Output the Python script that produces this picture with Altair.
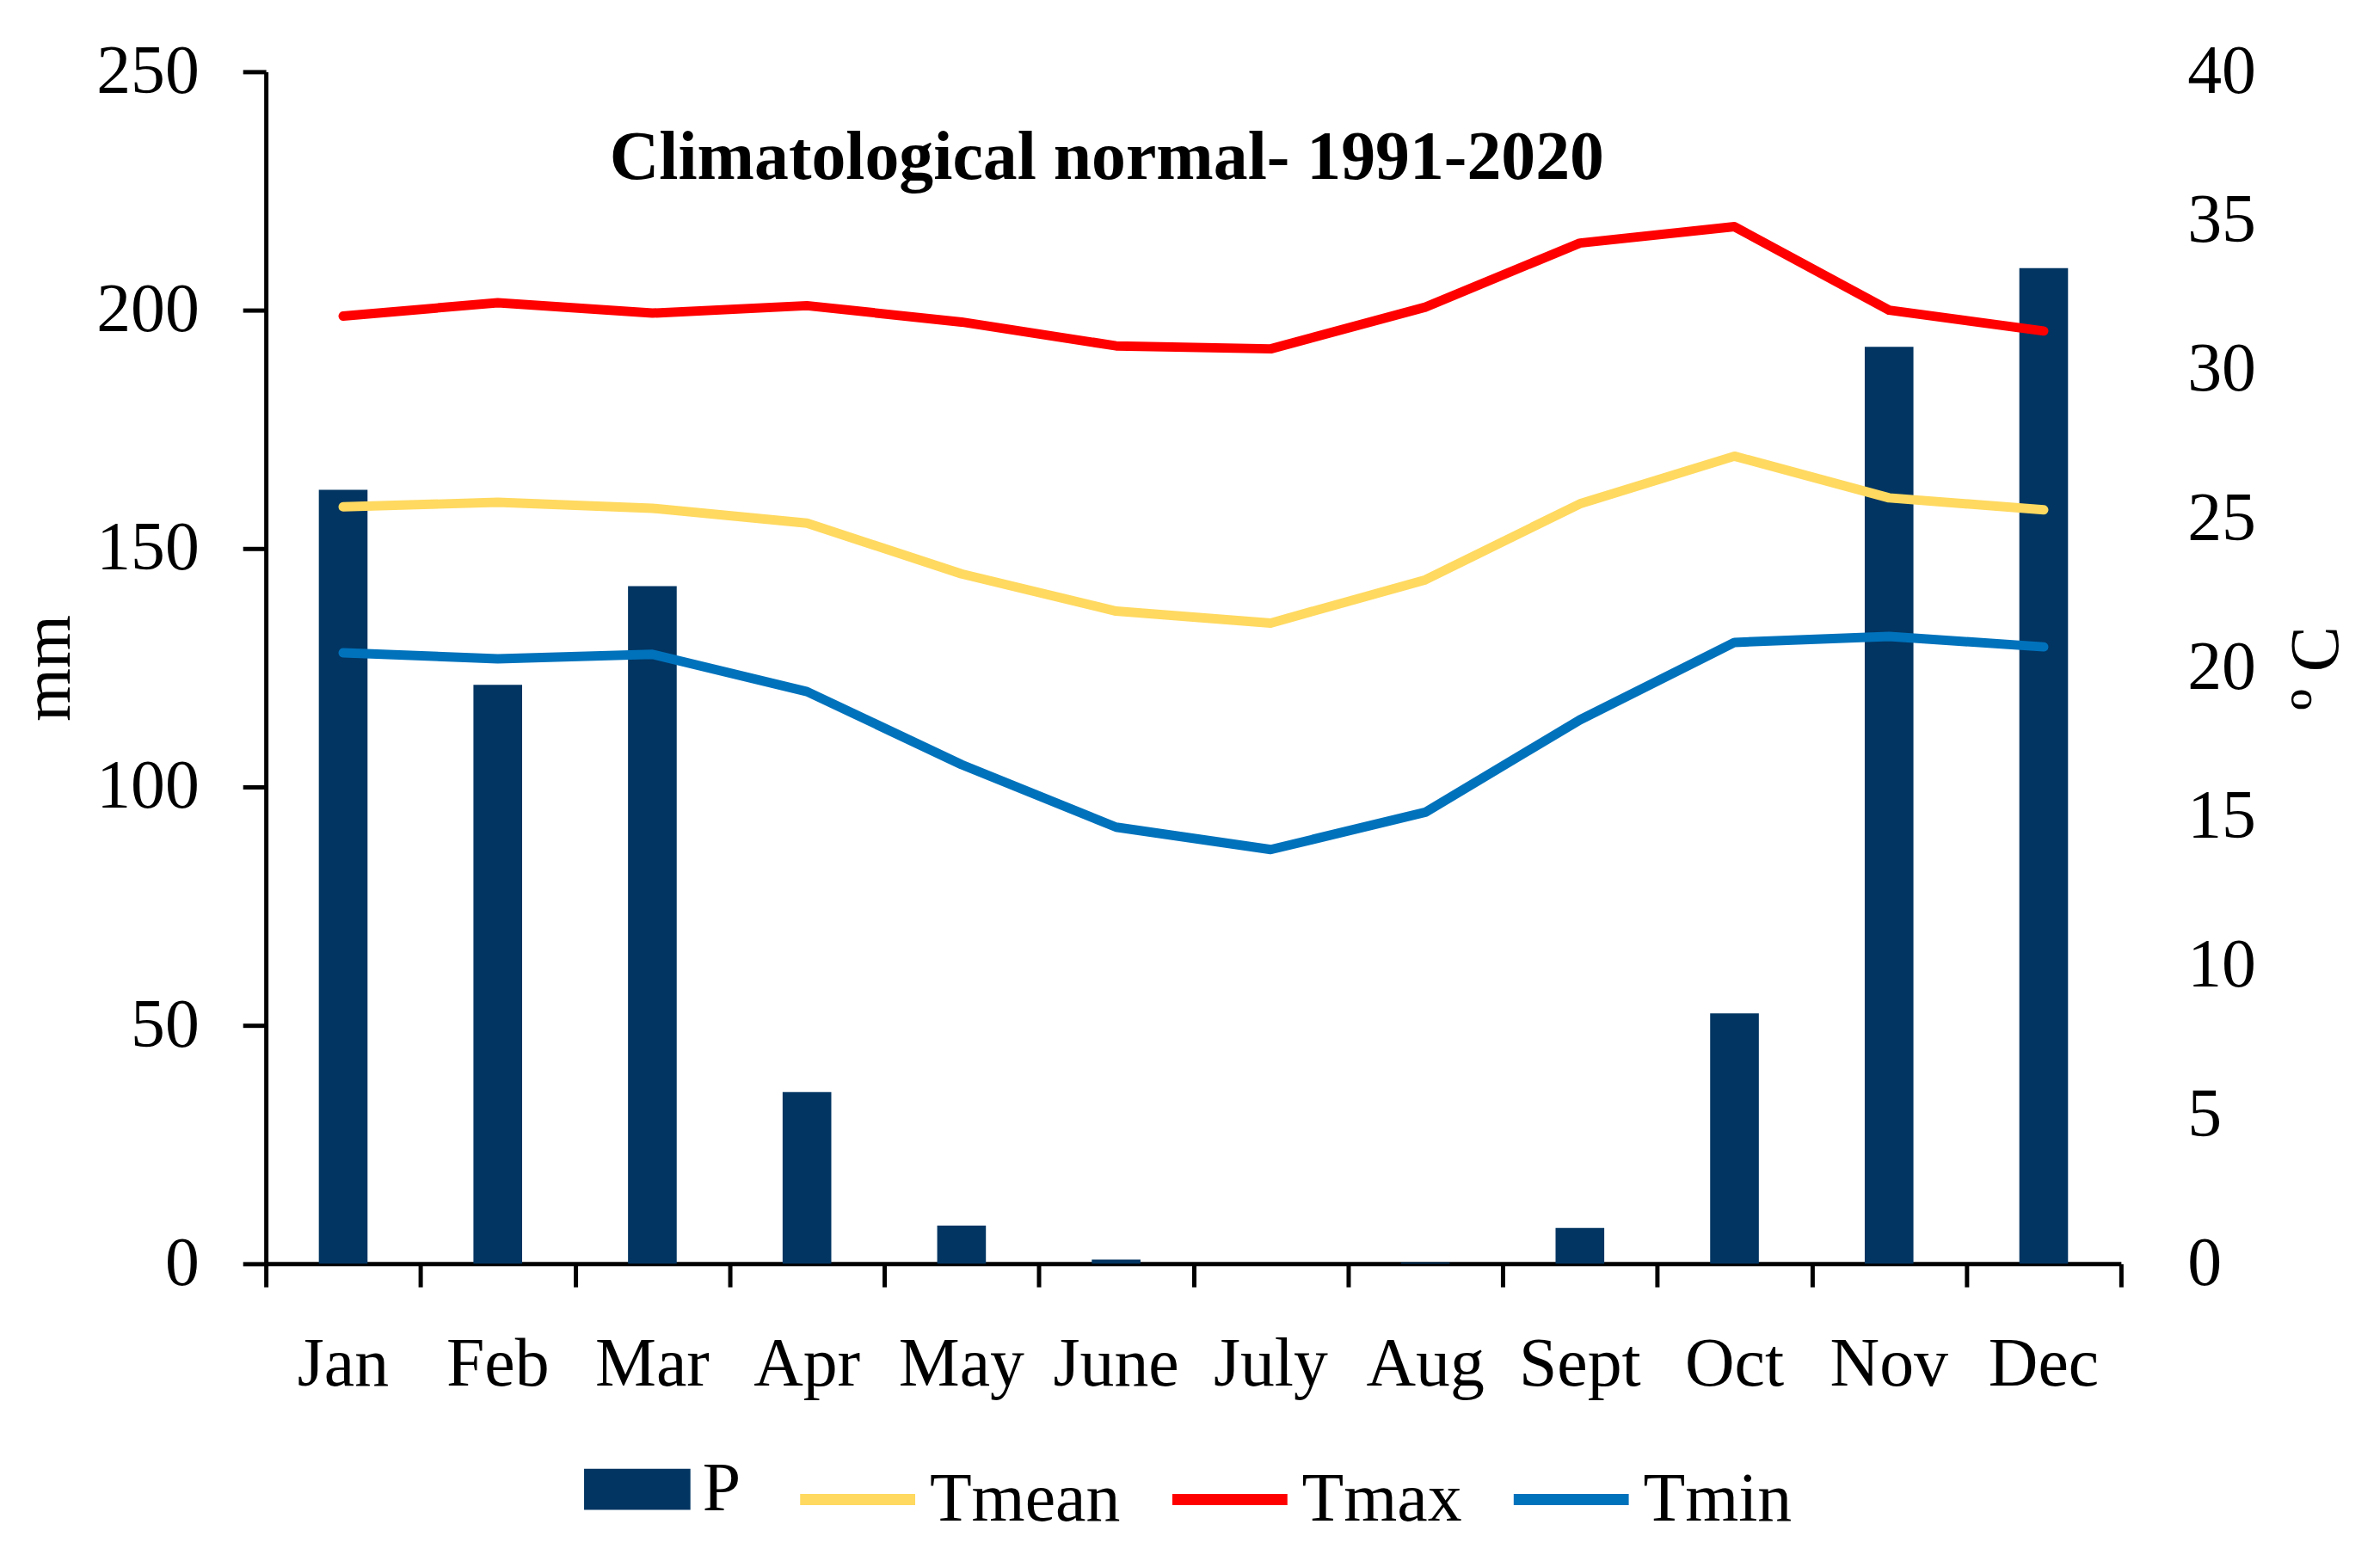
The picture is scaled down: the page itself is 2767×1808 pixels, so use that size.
import altair as alt
import pandas as pd

FONT = "Liberation Serif"

months = ["Jan", "Feb", "Mar", "Apr", "May", "June", "July", "Aug", "Sept", "Oct", "Nov", "Dec"]
P = [162.3, 121.4, 142.1, 36.0, 8.0, 0.9, 0.0, 0.3, 7.5, 52.5, 192.3, 208.8]
Tmean = [25.4, 25.55, 25.35, 24.85, 23.15, 21.9, 21.5, 22.95, 25.5, 27.1, 25.7, 25.3]
Tmax = [31.8, 32.25, 31.9, 32.15, 31.6, 30.8, 30.7, 32.1, 34.25, 34.8, 32.0, 31.3]
Tmin = [20.5, 20.3, 20.45, 19.2, 16.75, 14.65, 13.9, 15.15, 18.25, 20.85, 21.05, 20.7]

bar_name = ["P"]
bar_color = ["#023562"]
line_names = ["Tmean", "Tmax", "Tmin"]
line_colors = ["#FFD960", "#FF0000", "#0072BC"]
mm_ticks = [0, 50, 100, 150, 200, 250]
c_ticks = [0, 5, 10, 15, 20, 25, 30, 35, 40]
month_edges = list(range(13))
title_text = "Climatological normal- 1991-2020"

df_p = pd.DataFrame({"Month": months, "P": P, "series": "P"})
rows = []
for name, vals in [("Tmean", Tmean), ("Tmax", Tmax), ("Tmin", Tmin)]:
    for i, (m, v) in enumerate(zip(months, vals)):
        rows.append({"Month": m, "value": v, "series": name, "idx": i})
df_t = pd.DataFrame(rows)
df_edges = pd.DataFrame({"t": month_edges})

bar_legend = alt.Legend(
    title=None, orient="none", legendX=371, legendY=1591, direction="horizontal",
    padding=0, labelFont=FONT, labelFontSize=80, labelColor="black", labelLimit=500,
    labelOffset=14, symbolSize=15376, symbolType="M-1,-0.387H1V0.387H-1Z",
    symbolStrokeWidth=0,
)
line_legend = alt.Legend(
    title=None, orient="none", legendX=616, legendY=1591, direction="horizontal",
    columns=3, padding=0, labelFont=FONT, labelFontSize=80, labelColor="black",
    labelLimit=500, labelOffset=10, columnPadding=33, symbolSize=18000,
    symbolType="stroke", symbolStrokeWidth=13,
)

bars = alt.Chart(df_p).mark_bar().encode(
    x=alt.X(
        "Month:N",
        sort=months,
        scale=alt.Scale(type="band", paddingInner=0.685, paddingOuter=0.3425),
        axis=alt.Axis(
            orient="bottom", title=None, domain=False, ticks=False, grid=False,
            labelAngle=0, labelFont=FONT, labelFontSize=80, labelColor="black",
            labelPadding=79,
        ),
    ),
    y=alt.Y(
        "P:Q",
        scale=alt.Scale(domain=[0, 250], nice=False),
        axis=alt.Axis(
            orient="left", values=mm_ticks, title="mm", grid=False,
            domain=True, domainColor="black", domainWidth=5,
            ticks=True, tickColor="black", tickWidth=5, tickSize=27,
            labelFont=FONT, labelFontSize=80, labelColor="black", labelPadding=51,
            titleFont=FONT, titleFontSize=80, titleFontWeight="normal",
            titleColor="black", titlePadding=14,
        ),
    ),
    fill=alt.Fill("series:N", scale=alt.Scale(domain=bar_name, range=bar_color), legend=bar_legend),
)

lines = alt.Chart(df_t).mark_line(strokeWidth=11, strokeCap="round", strokeJoin="round").encode(
    x=alt.X("Month:N", sort=months, scale=alt.Scale(type="point", padding=0.5), axis=None),
    y=alt.Y(
        "value:Q",
        scale=alt.Scale(domain=[0, 40], nice=False),
        axis=alt.Axis(
            orient="right", values=c_ticks, title="º C", grid=False,
            domain=False, ticks=False, tickSize=0,
            labelFont=FONT, labelFontSize=80, labelColor="black", labelPadding=77,
            titleFont=FONT, titleFontSize=80, titleFontWeight="normal",
            titleColor="black", titleAngle=270, titleBaseline="top", titlePadding=32,
        ),
    ),
    stroke=alt.Stroke("series:N", scale=alt.Scale(domain=line_names, range=line_colors), legend=line_legend),
    order=alt.Order("idx:Q"),
)

edges = alt.Chart(df_edges).mark_point(opacity=0).encode(
    x=alt.X(
        "t:Q",
        scale=alt.Scale(domain=[0, 12], nice=False, zero=False),
        axis=alt.Axis(
            orient="bottom", values=month_edges, labels=False, title=None, grid=False,
            domain=True, domainColor="black", domainWidth=5,
            ticks=True, tickColor="black", tickWidth=5, tickSize=27,
        ),
    ),
)

chart = alt.layer(bars, lines, edges).resolve_scale(
    x="independent", y="independent"
).properties(
    width=2163,
    height=1390,
    autosize=alt.AutoSizeParams(type="none"),
    padding={"left": 302, "top": 73, "right": 294, "bottom": 337},
    background="white",
    title=alt.TitleParams(
        title_text, font=FONT, fontSize=80, fontWeight="bold", color="black",
        anchor="middle", frame="group", dx=-101, dy=245, offset=0, baseline="alphabetic",
    ),
).configure_view(stroke=None)

chart.save("out.html", embed_options={"renderer": "svg", "actions": False})
